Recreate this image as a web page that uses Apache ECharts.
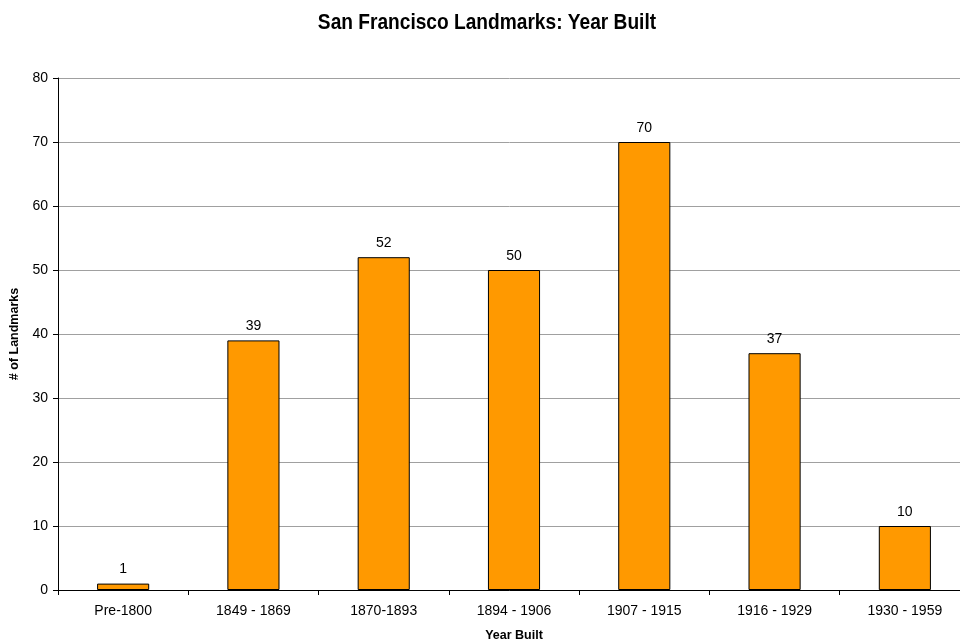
<!DOCTYPE html>
<html><head><meta charset="utf-8">
<script src="https://cdn.jsdelivr.net/npm/echarts@6/dist/echarts.min.js"></script>
<style>html,body{margin:0;padding:0;background:#fff}#c{width:960px;height:641px}</style>
</head><body><div id="c"></div>
<script>
const categories = ["Pre-1800","1849 - 1869","1870-1893","1894 - 1906","1907 - 1915","1916 - 1929","1930 - 1959"];
const landmarks = [1,39,52,50,70,37,10];
const yTicks = {min:0,max:80,interval:10};
const titleText = 'San Francisco Landmarks: Year Built';
const chart = echarts.init(document.getElementById('c'));
const font = '"Liberation Sans", Arial, sans-serif';
chart.setOption({
  animation:false,
  backgroundColor:'#fff',
  graphic:[{type:'text',x:487,y:23,scaleX:0.87,
    style:{text:titleText,font:'bold 22px "Liberation Sans", Arial, sans-serif',fill:'#000',
      textAlign:'center',textVerticalAlign:'middle'}}],
  grid:{left:58,top:78,width:912,height:512,containLabel:false,outerBoundsMode:'none'},
  xAxis:{type:'category',data:categories,
    name:'Year Built',nameLocation:'middle',nameGap:39,
    nameTextStyle:{fontFamily:font,fontSize:12.5,fontWeight:'bold',color:'#000'},
    axisLine:{lineStyle:{color:'#000',width:1}},
    axisTick:{show:true,length:5,lineStyle:{color:'#000'}},
    axisLabel:{fontFamily:font,fontSize:14,color:'#000',margin:14}},
  yAxis:{type:'value',min:yTicks.min,max:yTicks.max,interval:yTicks.interval,
    name:'# of Landmarks',nameLocation:'middle',nameGap:36,
    nameTextStyle:{fontFamily:font,fontSize:12.5,fontWeight:'bold',color:'#000'},
    axisLine:{show:true,lineStyle:{color:'#000',width:1}},
    axisTick:{show:true,length:5,lineStyle:{color:'#000'}},
    axisLabel:{fontFamily:font,fontSize:14,color:'#000',margin:10},
    splitLine:{lineStyle:{color:'#a0a0a0',width:1}}},
  series:[{type:'bar',data:landmarks,barCategoryGap:'60%',
    itemStyle:{color:'#FF9900',borderColor:'#000',borderWidth:1},
    label:{show:true,position:'top',distance:7,fontFamily:font,fontSize:14,color:'#000'}}]
});
</script></body></html>
